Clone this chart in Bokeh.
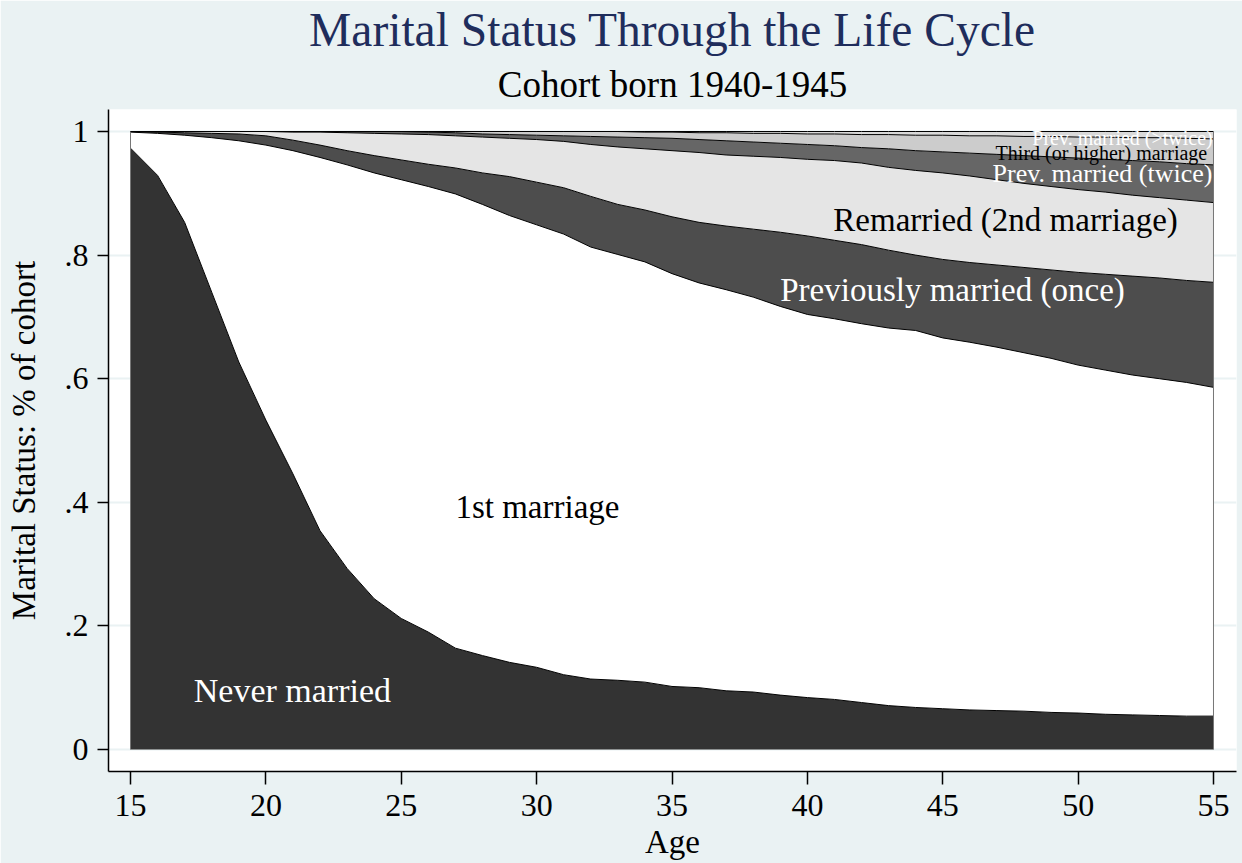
import numpy as np
from bokeh.plotting import figure
from bokeh.models import ColumnDataSource, Title, FixedTicker, Range1d
from bokeh.embed import file_html
from bokeh.resources import INLINE
from bokeh.core.properties import value

# ---------------- data (shares of cohort, by age) ----------------
ages = list(range(15, 56))

never_married = [0.973, 0.929, 0.853, 0.740, 0.627, 0.533, 0.446, 0.354, 0.293, 0.244,
                 0.212, 0.190, 0.164, 0.152, 0.141, 0.133, 0.121, 0.114, 0.112, 0.109,
                 0.102, 0.100, 0.095, 0.093, 0.088, 0.084, 0.081, 0.076, 0.071, 0.068,
                 0.066, 0.064, 0.063, 0.062, 0.060, 0.059, 0.057, 0.056, 0.055, 0.054,
                 0.054]
first_marriage = [0.026, 0.068, 0.141, 0.250, 0.358, 0.445, 0.523, 0.604, 0.653, 0.689,
                  0.710, 0.721, 0.735, 0.730, 0.723, 0.716, 0.713, 0.699, 0.689, 0.680,
                  0.668, 0.655, 0.649, 0.639, 0.629, 0.620, 0.616, 0.613, 0.611, 0.610,
                  0.600, 0.595, 0.588, 0.580, 0.573, 0.563, 0.557, 0.550, 0.545, 0.540,
                  0.532]
prev_married_once = [0.001, 0.002, 0.004, 0.007, 0.011, 0.015, 0.017, 0.020, 0.023, 0.028,
                     0.032, 0.036, 0.042, 0.051, 0.063, 0.069, 0.075, 0.082, 0.081, 0.084,
                     0.092, 0.098, 0.103, 0.110, 0.120, 0.127, 0.127, 0.128, 0.126, 0.122,
                     0.127, 0.129, 0.133, 0.138, 0.143, 0.150, 0.155, 0.160, 0.163, 0.165,
                     0.170]
remarried_2nd = [0.000, 0.001, 0.002, 0.003, 0.004, 0.007, 0.013, 0.021, 0.029, 0.036,
                 0.042, 0.048, 0.052, 0.058, 0.062, 0.069, 0.075, 0.084, 0.093, 0.099,
                 0.107, 0.113, 0.115, 0.118, 0.121, 0.124, 0.129, 0.132, 0.134, 0.137,
                 0.140, 0.140, 0.138, 0.136, 0.135, 0.134, 0.133, 0.131, 0.130, 0.130,
                 0.129]
prev_married_twice = [0.000, 0.000, 0.000, 0.000, 0.000, 0.000, 0.001, 0.001, 0.002, 0.003,
                      0.004, 0.004, 0.005, 0.005, 0.006, 0.007, 0.009, 0.013, 0.016, 0.018,
                      0.020, 0.021, 0.023, 0.023, 0.023, 0.024, 0.024, 0.025, 0.030, 0.032,
                      0.034, 0.037, 0.041, 0.045, 0.048, 0.051, 0.053, 0.056, 0.058, 0.059,
                      0.061]
third_marriage = [0.000, 0.000, 0.000, 0.000, 0.000, 0.000, 0.000, 0.000, 0.000, 0.000,
                  0.000, 0.001, 0.002, 0.004, 0.005, 0.006, 0.007, 0.008, 0.009, 0.009,
                  0.010, 0.011, 0.013, 0.014, 0.016, 0.017, 0.019, 0.021, 0.023, 0.025,
                  0.027, 0.028, 0.030, 0.031, 0.033, 0.034, 0.036, 0.037, 0.039, 0.041,
                  0.042]
prev_married_gt2 = [0.000, 0.000, 0.000, 0.000, 0.000, 0.000, 0.000, 0.000, 0.000, 0.000,
                    0.000, 0.000, 0.000, 0.000, 0.000, 0.000, 0.000, 0.000, 0.000, 0.001,
                    0.001, 0.002, 0.002, 0.003, 0.003, 0.004, 0.004, 0.005, 0.005, 0.006,
                    0.006, 0.007, 0.007, 0.008, 0.008, 0.009, 0.009, 0.010, 0.010, 0.011,
                    0.012]

status_names = ["Never married", "1st marriage", "Previously married (once)",
                "Remarried (2nd marriage)", "Prev. married (twice)",
                "Third (or higher) marriage", "Prev. married (>twice)"]

x_ticks = [15, 20, 25, 30, 35, 40, 45, 50, 55]
y_ticks = [0, 0.2, 0.4, 0.6, 0.8, 1]
y_tick_labels = ["0", ".2", ".4", ".6", ".8", "1"]

# ---------------- styles ----------------
fill_colors = ["#333333", "#ffffff", "#4d4d4d", "#e5e5e5", "#666666", "#cccccc", "#d9d9d9"]
label_colors = ["white", "black", "white", "black", "white", "black", "white"]
label_sizes = ["34px", "33px", "33px", "33px", "26px", "20px", "20px"]
label_x = [20.98, 30.03, 45.36, 47.32, 50.9, 50.86, 51.64]
label_y = [0.0955, 0.393, 0.744, 0.856, 0.932, 0.966, 0.990]
BG = "#eaf2f3"
FONT = "Liberation Serif"

series = [never_married, first_marriage, prev_married_once, remarried_2nd,
          prev_married_twice, third_marriage, prev_married_gt2]
keys = ["s%d" % i for i in range(len(series))]
data = {"age": ages}
for k, s in zip(keys, series):
    data[k] = s
src = ColumnDataSource(data)

p = figure(width=1242, height=863,
           x_range=Range1d(14.1874, 55.8495), y_range=Range1d(-0.0356, 1.0356),
           output_backend="svg", toolbar_location=None,
           min_border_left=108, min_border_right=6, min_border_top=109, min_border_bottom=92)
p.background_fill_color = "white"
p.border_fill_color = BG
p.outline_line_color = None

p.varea_stack(stackers=keys, x="age", fill_color=fill_colors, source=src)
p.vline_stack(stackers=keys, x="age", line_color="black", line_width=1, source=src)

# vertical edges of the stacked polygon
p.segment(x0=[ages[0], ages[-1]], y0=[0, 0], x1=[ages[0], ages[-1]],
          y1=[1, 1], line_color="#777777", line_width=1)

lab_src = ColumnDataSource(dict(x=label_x, y=label_y, text=status_names,
                                color=label_colors, size=label_sizes))
p.text(x="x", y="y", text="text", text_color="color", text_font_size="size",
       text_font=value(FONT), text_align="center", text_baseline="middle", source=lab_src)

# grid
p.xgrid.visible = False
p.ygrid.ticker = FixedTicker(ticks=y_ticks)
p.ygrid.grid_line_color = BG
p.ygrid.grid_line_width = 2

# axes
p.xaxis.ticker = FixedTicker(ticks=x_ticks)
p.yaxis.ticker = FixedTicker(ticks=y_ticks)
p.yaxis.major_label_overrides = {t: l for t, l in zip(y_ticks, y_tick_labels)}
p.xaxis.axis_label = "Age"
p.yaxis.axis_label = "Marital Status: % of cohort"
for ax in (p.xaxis[0], p.yaxis[0]):
    ax.axis_line_color = "black"
    ax.axis_line_width = 1.5
    ax.major_tick_line_color = "black"
    ax.major_tick_line_width = 1.5
    ax.minor_tick_line_color = None
    ax.major_tick_in = 0
    ax.major_label_text_font = FONT
    ax.major_label_text_font_size = "32px"
    ax.major_label_text_color = "black"
    ax.axis_label_text_font = FONT
    ax.axis_label_text_font_size = "33px"
    ax.axis_label_text_font_style = "normal"
    ax.axis_label_text_color = "black"
p.xaxis.major_tick_out = 13
p.yaxis.major_tick_out = 11
p.xaxis.major_label_standoff = 10
p.yaxis.major_label_standoff = 9
p.xaxis.axis_label_standoff = 5
p.yaxis.axis_label_standoff = 20
p.yaxis.major_label_orientation = "horizontal"

# titles
p.add_layout(Title(text="Cohort born 1940-1945", align="center", text_font=FONT,
                   text_font_size="37px", text_font_style="normal", text_color="black",
                   standoff=10), "above")
p.add_layout(Title(text="Marital Status Through the Life Cycle", align="center", text_font=FONT,
                   text_font_size="47.5px", text_font_style="normal", text_color="#1f2d5c",
                   standoff=1), "above")

open("out.html", "w").write(file_html(p, INLINE))
